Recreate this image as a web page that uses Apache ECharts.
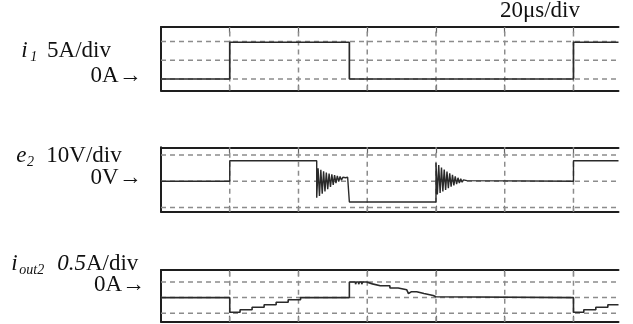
<!DOCTYPE html>
<html>
<head>
<meta charset="utf-8">
<script src="https://cdn.jsdelivr.net/npm/echarts@6/dist/echarts.min.js"></script>
<style>
html,body{margin:0;padding:0;background:#fff}
#c{width:633px;height:324px}
</style>
</head>
<body>
<div id="c"></div>
<script>
// Time base: 20 μs per division, visible span of the screen in μs
const timeMax = 133.1;
const gridTimes = [0, 20, 40, 60, 80, 100, 120];

// Horizontal graticule levels for each trace (in trace units)
const i1Levels = [0, 5, 10];          // A, 5 A/div
const e2Levels = [-10, 0, 10];        // V, 10 V/div
const iout2Levels = [-0.5, 0, 0.5];   // A, 0.5 A/div

// Primary current i1 [μs, A]
const i1Wave = [
  [0, 0], [20, 0], [20, 9.8], [54.8, 9.8], [54.8, 0],
  [120, 0], [120, 9.8], [133.1, 9.8]
];

// Secondary winding voltage e2 [μs, V] with switching ringing
const e2Wave = [
  [0, 0], [20, 0], [20, 7.8], [45.3, 7.8],
  [45.3, -6.3], [45.7, 4.9], [46.1, -5.6], [46.5, 4.3], [46.9, -4.8], [47.3, 3.8],
  [47.7, -3.9], [48.1, 3.3], [48.5, -3.0], [48.9, 2.9], [49.3, -2.2], [49.7, 2.6],
  [50.1, -1.4], [50.5, 2.3], [50.9, -0.7], [51.3, 2.0], [51.7, -0.1], [52.1, 1.8],
  [52.5, 0.4], [52.9, 1.5], [53.3, 0.8], [53.7, 1.3], [53.9, 1.0], [53.9, 1.5],
  [54.3, 1.5], [54.3, 1.0], [54.8, 1.0], [54.8, -7.9], [80, -7.9],
  [80, 7.0], [80.4, -5.0], [80.8, 6.1], [81.2, -4.5], [81.6, 5.2], [82.0, -3.9],
  [82.4, 4.4], [82.8, -3.3], [83.2, 3.7], [83.6, -2.7], [84.0, 3.0], [84.4, -2.1],
  [84.8, 2.4], [85.2, -1.6], [85.6, 1.8], [86.0, -1.1], [86.4, 1.3], [86.8, -0.7],
  [87.2, 0.9], [87.6, -0.4], [88.0, 0.5], [88.5, -0.1], [89.0, 0.2], [89.5, 0],
  [120, 0], [120, 7.8], [133.1, 7.8]
];

// Output current iout2 [μs, A], stepped ramps with small ripple teeth
const iout2Wave = [
  [0, 0], [20, 0], [20, -0.47], [23.0, -0.47], [23.0, -0.39], [26.5, -0.39],
  [26.5, -0.31], [30.0, -0.31], [30.0, -0.23], [33.5, -0.23], [33.5, -0.15],
  [37.0, -0.15], [37.0, -0.07], [38.3, -0.07], [38.3, -0.11], [38.55, -0.11],
  [38.55, -0.07], [39.3, -0.07], [39.3, -0.11], [39.55, -0.11], [39.55, -0.07],
  [40.6, -0.07], [40.6, 0], [54.8, 0],
  [54.8, 0.50], [56.6, 0.50], [56.6, 0.43], [56.85, 0.43], [56.85, 0.50],
  [57.5, 0.50], [57.5, 0.43], [57.75, 0.43], [57.75, 0.50], [58.4, 0.50],
  [58.4, 0.43], [58.65, 0.43], [58.65, 0.50], [59.8, 0.50], [59.8, 0.44],
  [61.5, 0.44], [61.5, 0.38], [63.8, 0.38], [63.8, 0.32], [64.05, 0.32],
  [64.05, 0.38], [64.7, 0.38], [64.7, 0.32], [64.95, 0.32], [64.95, 0.38],
  [65.6, 0.38], [65.6, 0.32], [65.85, 0.32], [65.85, 0.38], [66.6, 0.38],
  [66.6, 0.31], [69.0, 0.31], [69.0, 0.25], [71.5, 0.25], [71.5, 0.19],
  [72.0, 0.19], [72.0, 0.13], [72.25, 0.13], [72.25, 0.19], [72.9, 0.19],
  [72.9, 0.13], [73.15, 0.13], [73.15, 0.19], [73.8, 0.19], [73.8, 0.13],
  [74.05, 0.13], [74.05, 0.19], [74.4, 0.19], [74.4, 0.13], [76.5, 0.13],
  [76.5, 0.07], [79.2, 0.07], [79.2, 0.03], [80.0, 0.03], [80.0, 0], [120, 0],
  [120, -0.47], [123.0, -0.47], [123.0, -0.39], [126.5, -0.39], [126.5, -0.31],
  [130.0, -0.31], [130.0, -0.23], [133.1, -0.23]
];

// Screen layout of the three traces
const panels = [
  { top: 27,    height: 63.5, ymin: -3.07,  ymax: 13.87, levels: i1Levels,    wave: i1Wave,    width: 1.7 },
  { top: 147.3, height: 64.4, ymin: -11.6,  ymax: 12.89, levels: e2Levels,    wave: e2Wave,    width: 1.4 },
  { top: 270,   height: 51.7, ymin: -0.772, ymax: 0.885, levels: iout2Levels, wave: iout2Wave, width: 1.6 }
];

const frameColor = '#1e1e1e';
const dashColor = '#8c8c8c';
const traceColor = '#2a2a2a';
const tickValues = gridTimes.slice(1);

const grid = [], xAxis = [], yAxis = [], series = [];
panels.forEach((p, k) => {
  grid.push({ left: 161, width: 457.5, top: p.top, height: p.height });
  ['bottom', 'top'].forEach(pos => {
    xAxis.push({
      type: 'value', gridIndex: k, position: pos, min: 0, max: timeMax,
      axisLine: { show: true, onZero: false, lineStyle: { color: frameColor, width: 2 } },
      axisTick: { show: true, inside: true, length: 6, customValues: tickValues,
                  lineStyle: { color: '#666', width: 1.2 } },
      axisLabel: { show: false },
      splitLine: { show: false }
    });
  });
  yAxis.push({
    type: 'value', gridIndex: k, min: p.ymin, max: p.ymax,
    axisLine: { show: true, onZero: false, lineStyle: { color: frameColor, width: 2 } },
    axisTick: { show: false }, axisLabel: { show: false }, splitLine: { show: false }
  });
  const xi = k * 2;
  // horizontal graticule
  p.levels.forEach(v => {
    series.push({
      type: 'line', xAxisIndex: xi, yAxisIndex: k, z: 1, silent: true,
      showSymbol: false, animation: false,
      data: [[0, v], [timeMax, v]],
      lineStyle: { color: dashColor, width: 1.5, type: [5, 4] }
    });
  });
  // vertical graticule
  tickValues.forEach(t => {
    series.push({
      type: 'line', xAxisIndex: xi, yAxisIndex: k, z: 1, silent: true,
      showSymbol: false, animation: false,
      data: [[t, p.ymin], [t, p.ymax]],
      lineStyle: { color: dashColor, width: 1.5, type: [5, 4] }
    });
  });
  // trace
  series.push({
    type: 'line', xAxisIndex: xi, yAxisIndex: k, z: 3, silent: true,
    showSymbol: false, animation: false, data: p.wave,
    lineStyle: { color: traceColor, width: p.width }
  });
});

const serif = '"Liberation Serif", "Times New Roman", serif';
function txt(x, y, text, size, italic, align) {
  return {
    type: 'text', x: x, y: y, silent: true,
    style: {
      text: text, fill: '#111',
      font: (italic ? 'italic ' : '') + size + 'px ' + serif,
      align: align || 'left', verticalAlign: 'middle'
    }
  };
}

const graphic = [
  txt(580, 11.2, '20μs/div', 23, false, 'right'),
  // i1
  txt(21.2, 51.0, 'i', 23, true),
  txt(30.2, 57.0, '1', 14, true),
  txt(111, 51.0, '5A/div', 23, false, 'right'),
  txt(141.7, 76.0, '0A→', 23, false, 'right'),
  // e2
  txt(16.2, 156.0, 'e', 23, true),
  txt(26.9, 162.0, '2', 14, true),
  txt(121.7, 156.0, '10V/div', 23, false, 'right'),
  txt(141.7, 177.7, '0V→', 23, false, 'right'),
  // iout2
  txt(11.2, 264.4, 'i', 23, true),
  txt(19.3, 270.3, 'out2', 14, true),
  {
    type: 'text', x: 138.3, y: 264.4, silent: true,
    style: {
      text: '{it|0.5}{rg|A/div}', fill: '#111', align: 'right', verticalAlign: 'middle',
      rich: {
        it: { fontFamily: serif, fontSize: 23, fontStyle: 'italic', fill: '#111' },
        rg: { fontFamily: serif, fontSize: 23, fill: '#111' }
      }
    }
  },
  txt(145, 285.4, '0A→', 23, false, 'right')
];

const chart = echarts.init(document.getElementById('c'), null, { renderer: 'canvas' });
chart.setOption({
  animation: false,
  backgroundColor: '#fff',
  grid: grid, xAxis: xAxis, yAxis: yAxis, series: series, graphic: graphic
});
</script>
</body>
</html>
